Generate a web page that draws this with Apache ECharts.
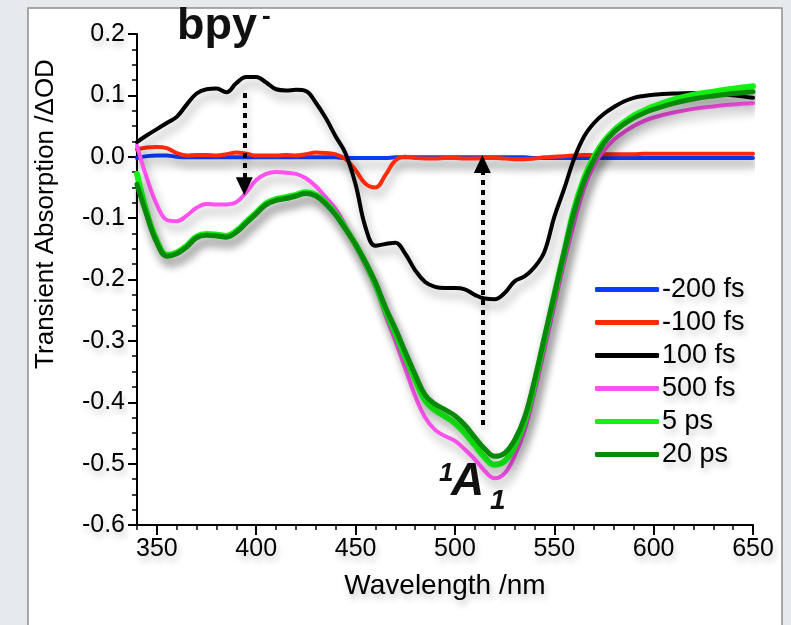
<!DOCTYPE html>
<html>
<head>
<meta charset="utf-8">
<script src="https://cdn.jsdelivr.net/npm/echarts@6/dist/echarts.min.js"></script>
<style>
  html, body { margin: 0; padding: 0; background: #e6e9ed; }
  #main { width: 791px; height: 625px; }
</style>
</head>
<body>
<div id="main"></div>
<script>
// wavelength grid (nm)
var wavelengths = [340,345,350,355,360,365,370,375,380,385,390,395,400,405,410,415,420,425,430,435,
  440,445,450,455,460,465,470,475,480,485,490,495,500,505,510,515,520,525,530,535,
  540,545,550,555,560,565,570,575,580,585,590,595,600,610,620,630,640,650];

var seriesNames = ['-200 fs', '-100 fs', '100 fs', '500 fs', '5 ps', '20 ps'];

var dOD_m200fs = [-0.002,0.001,0.002,0.002,0.000,-0.001,-0.001,-0.001,-0.001,-0.001,-0.001,-0.001,-0.001,-0.001,-0.001,-0.001,-0.001,-0.001,-0.001,-0.001,
  -0.001,-0.002,-0.002,-0.002,-0.002,-0.002,-0.001,-0.001,-0.001,-0.001,-0.001,-0.001,-0.001,-0.001,-0.001,-0.001,-0.001,-0.001,-0.001,-0.001,
  -0.002,-0.002,-0.002,-0.002,-0.002,-0.002,-0.002,-0.002,-0.002,-0.002,-0.002,-0.002,-0.002,-0.002,-0.002,-0.002,-0.002,-0.002];

var dOD_m100fs = [0.012,0.015,0.016,0.014,0.006,0.002,0.003,0.003,0.002,0.004,0.007,0.005,0.002,0.002,0.002,0.003,0.002,0.004,0.007,0.006,
  0.004,-0.004,-0.022,-0.044,-0.050,-0.030,-0.006,0.000,-0.002,-0.003,-0.003,-0.002,-0.002,-0.003,-0.003,-0.002,-0.002,-0.003,-0.004,-0.004,
  -0.003,-0.001,0.000,0.001,0.002,0.003,0.003,0.004,0.004,0.004,0.004,0.005,0.005,0.005,0.005,0.005,0.005,0.005];

var dOD_100fs = [0.024,0.035,0.045,0.055,0.065,0.085,0.103,0.110,0.111,0.105,0.120,0.130,0.130,0.121,0.110,0.108,0.109,0.107,0.088,0.063,
  0.033,0.005,-0.045,-0.115,-0.145,-0.142,-0.140,-0.158,-0.185,-0.204,-0.212,-0.214,-0.214,-0.216,-0.225,-0.231,-0.232,-0.222,-0.203,-0.195,
  -0.180,-0.155,-0.098,-0.052,-0.003,0.033,0.055,0.070,0.081,0.090,0.096,0.099,0.101,0.103,0.104,0.103,0.100,0.096];

var dOD_500fs = [0.018,-0.035,-0.078,-0.103,-0.105,-0.096,-0.083,-0.077,-0.078,-0.078,-0.074,-0.058,-0.038,-0.028,-0.025,-0.026,-0.028,-0.035,-0.048,-0.066,
  -0.085,-0.113,-0.145,-0.178,-0.212,-0.258,-0.300,-0.345,-0.390,-0.425,-0.445,-0.455,-0.463,-0.477,-0.493,-0.512,-0.524,-0.516,-0.488,-0.447,
  -0.385,-0.315,-0.243,-0.172,-0.108,-0.052,-0.014,0.010,0.028,0.040,0.050,0.058,0.064,0.072,0.078,0.082,0.085,0.087];

var dOD_5ps = [-0.028,-0.092,-0.137,-0.160,-0.156,-0.145,-0.130,-0.126,-0.127,-0.129,-0.121,-0.106,-0.091,-0.076,-0.069,-0.066,-0.062,-0.058,-0.062,-0.075,
  -0.093,-0.117,-0.143,-0.173,-0.208,-0.250,-0.287,-0.326,-0.363,-0.397,-0.413,-0.423,-0.434,-0.450,-0.470,-0.490,-0.502,-0.496,-0.472,-0.432,
  -0.370,-0.298,-0.226,-0.155,-0.085,-0.035,0.000,0.025,0.043,0.056,0.067,0.075,0.082,0.093,0.101,0.106,0.111,0.115];

var dOD_20ps = [-0.045,-0.096,-0.140,-0.162,-0.158,-0.147,-0.132,-0.128,-0.129,-0.131,-0.123,-0.108,-0.093,-0.078,-0.071,-0.068,-0.064,-0.060,-0.064,-0.077,
  -0.095,-0.118,-0.143,-0.172,-0.205,-0.245,-0.280,-0.318,-0.355,-0.388,-0.403,-0.412,-0.422,-0.437,-0.457,-0.476,-0.488,-0.483,-0.462,-0.425,
  -0.365,-0.295,-0.225,-0.155,-0.090,-0.040,-0.005,0.022,0.040,0.053,0.063,0.071,0.077,0.087,0.094,0.099,0.103,0.106];

var seriesColors = ['#0a3cff', '#ff2a0a', '#000000', '#ff50f0', '#14f014', '#078a07'];

var xMajorTicks = [350, 400, 450, 500, 550, 600, 650];

// dotted arrows [wavelength, from, to]
var arrowBpy = [394, 0.104, -0.048];
var arrowA1 = [513.8, -0.437, -0.012];

var FONT = '"Liberation Sans", Arial, Helvetica, sans-serif';

function pairs(vals) {
    return wavelengths.map(function (w, i) { return [w, vals[i]]; });
}

var myChart = echarts.init(document.getElementById('main'));

var lineShadow = {
    shadowColor: 'rgba(0,0,0,0.32)',
    shadowBlur: 10,
    shadowOffsetX: 3,
    shadowOffsetY: 7
};

function makeSeries(idx, vals, width) {
    return {
        name: seriesNames[idx],
        type: 'line',
        data: pairs(vals),
        smooth: 0.4,
        showSymbol: false,
        symbol: 'none',
        color: seriesColors[idx],
        lineStyle: Object.assign({ width: width, color: seriesColors[idx], cap: 'round', join: 'round' }, lineShadow),
        emphasis: { disabled: true },
        animation: false
    };
}

var arrowLine = {
    silent: true,
    animation: false,
    symbol: ['none', 'triangle'],
    symbolSize: [17, 18],
    label: { show: false },
    lineStyle: {
        color: '#000', width: 4, type: [5, 5], cap: 'butt',
        shadowColor: 'rgba(0,0,0,0.25)', shadowBlur: 6, shadowOffsetX: 2, shadowOffsetY: 4
    },
    itemStyle: { color: '#000' },
    data: [
        [{ coord: [arrowBpy[0], arrowBpy[1]] }, { coord: [arrowBpy[0], arrowBpy[2]] }],
        [{ coord: [arrowA1[0], arrowA1[1]] }, { coord: [arrowA1[0], arrowA1[2]] }]
    ]
};

var labelShadow = {
    textShadowColor: 'rgba(0,0,0,0.22)',
    textShadowBlur: 6,
    textShadowOffsetX: 2,
    textShadowOffsetY: 5
};

var s20 = makeSeries(5, dOD_20ps, 5);
s20.markLine = arrowLine;

option = {
    backgroundColor: '#e6e9ed',
    animation: false,
    grid: { left: 137, right: 38, top: 34, bottom: 100 },
    legend: {
        data: seriesNames,
        orient: 'vertical',
        left: 590,
        top: 271,
        itemWidth: 64,
        itemHeight: 5,
        itemGap: 6,
        icon: 'roundRect',
        selectedMode: false,
        textStyle: Object.assign({ fontFamily: FONT, fontSize: 27, color: '#000', padding: [0, 0, 0, -2] }, labelShadow)
    },
    xAxis: [{
        type: 'value',
        min: 340,
        max: 650,
        interval: 10,
        name: 'Wavelength /nm',
        nameLocation: 'middle',
        nameGap: 47,
        nameTextStyle: Object.assign({ fontFamily: FONT, fontSize: 28, color: '#000' }, labelShadow),
        axisLine: { onZero: false, lineStyle: { color: '#000', width: 2 } },
        axisTick: { length: 5, lineStyle: { color: '#000', width: 1.5 } },
        axisLabel: Object.assign({ customValues: xMajorTicks, fontFamily: FONT, fontSize: 25, color: '#000', margin: 12 }, labelShadow),
        splitLine: { show: false }
    }, {
        type: 'value',
        min: 340,
        max: 650,
        position: 'bottom',
        axisLine: { show: false, onZero: false },
        axisTick: { show: true, customValues: xMajorTicks, length: 10, lineStyle: { color: '#000', width: 2 } },
        axisLabel: { show: false, customValues: xMajorTicks },
        splitLine: { show: false }
    }],
    yAxis: {
        type: 'value',
        min: -0.6,
        max: 0.2,
        interval: 0.1,
        axisLine: { show: true, onZero: false, lineStyle: { color: '#000', width: 2 } },
        axisTick: { show: true, length: 9, lineStyle: { color: '#000', width: 2 } },
        minorTick: { show: true, splitNumber: 4, length: 5, lineStyle: { color: '#000', width: 1.5 } },
        axisLabel: Object.assign({
            fontFamily: FONT, fontSize: 25, color: '#000', margin: 12,
            formatter: function (v) { return v.toFixed(1); }
        }, labelShadow),
        splitLine: { show: false }
    },
    graphic: [
        { type: 'rect', z: -100, shape: { x: 28, y: 8, width: 754, height: 660 },
          style: { fill: '#ffffff', stroke: '#8e8e8e', lineWidth: 1.5 } },
        { type: 'text', x: 46, y: 214, rotation: Math.PI / 2,
          style: { text: 'Transient Absorption /\u0394OD', font: '26px ' + FONT, fill: '#000', align: 'center', verticalAlign: 'middle',
              shadowColor: 'rgba(0,0,0,0.22)', shadowBlur: 6, shadowOffsetX: 4, shadowOffsetY: 2 } },
        { type: 'text', left: 177, top: 4,
          style: { text: 'bpy', font: 'bold 45px ' + FONT, fill: '#111', shadowColor: 'rgba(0,0,0,0.3)', shadowBlur: 8, shadowOffsetY: 5 } },
        { type: 'text', left: 262, top: 4,
          style: { text: '-', font: 'bold 26px ' + FONT, fill: '#111' } },
        { type: 'text', left: 439, top: 461,
          style: { text: '1', font: 'italic bold 26px ' + FONT, fill: '#111' } },
        { type: 'text', left: 451, top: 459,
          style: { text: 'A', font: 'italic bold 46px ' + FONT, fill: '#111', shadowColor: 'rgba(0,0,0,0.3)', shadowBlur: 8, shadowOffsetY: 5 } },
        { type: 'text', left: 490, top: 487,
          style: { text: '1', font: 'italic bold 28px ' + FONT, fill: '#111' } }
    ],
    series: [
        makeSeries(0, dOD_m200fs, 4),
        makeSeries(1, dOD_m100fs, 4),
        makeSeries(2, dOD_100fs, 4),
        makeSeries(3, dOD_500fs, 4),
        makeSeries(4, dOD_5ps, 6),
        s20
    ]
};

myChart.setOption(option);
</script>
</body>
</html>
